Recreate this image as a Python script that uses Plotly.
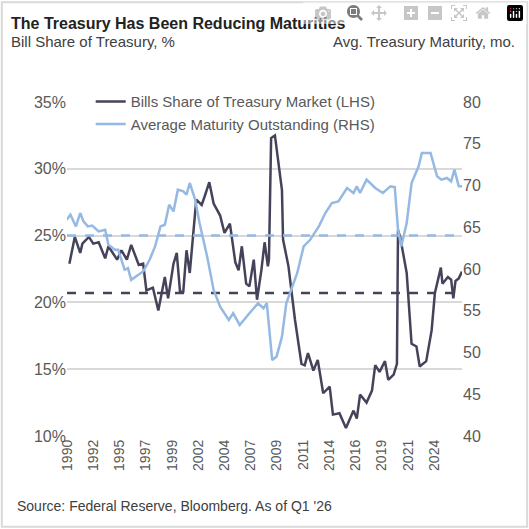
import plotly.graph_objects as go

bills_x = [1990.4,1990.9,1991.4,1991.6,1992.2,1992.6,1993.1,1993.7,1994.0,1994.8,1995.2,1995.7,1996.1,1996.8,1997.2,1997.5,1998.1,1998.6,1999.2,1999.5,2000.0,2000.3,2000.6,2000.9,2001.2,2001.5,2002.1,2002.6,2002.9,2003.3,2003.7,2004.3,2004.7,2005.2,2005.7,2006.0,2006.3,2006.7,2007.0,2007.4,2007.7,2008.1,2008.4,2008.7,2008.8,2009.0,2009.35,2010.0,2010.1,2010.6,2011.2,2011.8,2012.1,2012.4,2012.9,2013.3,2013.8,2014.4,2014.7,2015.3,2015.9,2016.6,2016.9,2017.2,2017.8,2018.3,2018.6,2019.0,2019.5,2019.8,2020.3,2020.6,2020.7,2020.9,2021.5,2021.95,2022.4,2022.7,2023.3,2023.8,2024.1,2024.65,2024.8,2025.3,2025.6,2025.8,2026.0,2026.3,2026.6]
bills_v = [22.9,24.9,23.7,24.4,24.9,24.4,24.5,23.3,24.2,23.2,23.9,23.2,24.3,22.8,22.9,20.9,21.1,19.4,21.9,20.3,22.9,23.7,20.8,20.8,23.9,22.2,27.7,27.3,28.0,29.0,27.4,26.5,25.2,25.9,23.0,22.4,24.2,21.4,21.2,23.2,20.2,22.4,24.5,22.7,23.2,32.3,32.5,28.4,24.7,22.7,18.7,15.4,15.3,16.2,14.9,15.7,13.2,13.7,11.6,11.7,10.6,11.9,11.3,13.1,12.5,13.4,15.3,14.8,15.6,14.2,14.6,15.4,25.4,24.9,22.2,16.9,16.7,15.2,15.6,17.9,20.7,22.6,21.4,21.9,21.7,20.3,21.6,21.8,22.3]
mat_x = [1990.15,1990.5,1991.0,1991.4,1991.7,1992.1,1992.5,1993.1,1993.7,1994.0,1994.6,1994.9,1995.5,1995.8,1996.1,1997.2,1997.8,1998.3,1998.8,1999.2,1999.6,2000.0,2000.4,2000.9,2001.2,2001.5,2002.0,2002.4,2003.1,2003.7,2004.3,2005.1,2005.5,2006.1,2007.0,2007.8,2008.3,2008.6,2008.75,2009.1,2009.5,2010.0,2010.4,2011.4,2012.0,2012.6,2013.4,2014.0,2014.6,2015.2,2016.0,2016.6,2016.9,2017.2,2017.8,2018.6,2019.3,2020.0,2020.4,2020.7,2021.0,2021.5,2021.95,2022.6,2022.9,2023.7,2024.3,2024.7,2025.2,2025.6,2025.9,2026.3,2026.6]
mat_v = [65.9,66.5,65.1,66.7,65.7,65.1,65.2,64.5,64.7,62.9,62.3,62.3,59.9,60.1,58.7,59.7,61.1,62.7,65.1,65.3,67.7,66.9,69.5,69.3,68.9,70.3,68.3,65.5,61.5,57.5,55.5,53.9,54.7,53.3,54.7,55.9,55.3,55.9,53.9,49.1,49.5,51.9,55.9,59.5,62.7,63.5,65.1,66.7,67.9,68.1,69.7,69.1,69.9,69.1,70.7,69.7,69.1,69.9,69.8,64.7,62.7,65.5,70.3,72.3,73.9,73.9,71.1,70.7,70.9,70.5,71.9,69.9,69.9]
bills_avg = 20.7
mat_avg = 64.0
tick_labels = ["1990","1992","1995","1997","1999","2002","2004","2007","2009","2011","2014","2016","2019","2021","2024"]
tick_vals = [1990.2 + k*2.417 for k in range(len(tick_labels))]

DARK = "#45435a"
LIGHT = "#95b9e3"
x0, x1 = 1990.18, 2026.6

fig = go.Figure()
fig.add_trace(go.Scatter(x=[x0, x1], y=[bills_avg]*2, mode="lines", line=dict(color=DARK, width=2.5, dash="dash"), showlegend=False))
fig.add_trace(go.Scatter(x=[x0, x1], y=[mat_avg]*2, yaxis="y2", mode="lines", line=dict(color=LIGHT, width=2.5, dash="dash"), showlegend=False))
fig.add_trace(go.Scatter(x=bills_x, y=bills_v, mode="lines", name="Bills Share of Treasury Market (LHS)", line=dict(color=DARK, width=2.5)))
fig.add_trace(go.Scatter(x=mat_x, y=mat_v, yaxis="y2", mode="lines", name="Average Maturity Outstanding (RHS)", line=dict(color=LIGHT, width=2.5)))

font = "Liberation Sans, Arial, sans-serif"
fig.update_layout(
    width=529, height=529, margin=dict(l=67, r=67, t=102, b=93),
    paper_bgcolor="white", plot_bgcolor="white",
    font=dict(family=font, color="#595959"),
    xaxis=dict(range=[x0, x1], tickvals=tick_vals, ticktext=tick_labels, tickangle=-90,
               tickfont=dict(size=14, color="#595959"), showgrid=False, zeroline=False, ticks=""),
    yaxis=dict(range=[10, 35], dtick=5, ticksuffix="%", tickfont=dict(size=16, color="#595959"),
               showgrid=True, gridcolor="#d9d9d9", gridwidth=1.5, zeroline=False),
    yaxis2=dict(range=[40, 80], dtick=5, overlaying="y", side="right", tickfont=dict(size=16, color="#595959"),
                showgrid=False, zeroline=False),
    legend=dict(x=0.06, y=1.05, yanchor="top", xanchor="left", bgcolor="rgba(0,0,0,0)",
                font=dict(size=15, color="#595959"), tracegroupgap=0),
    showlegend=True,
)
fig.add_annotation(text="<b>The Treasury Has Been Reducing Maturities</b>", xref="paper", yref="paper",
                   x=-0.147, y=1.235, xanchor="left", yanchor="middle", showarrow=False, font=dict(size=16, color="#222"))
fig.add_annotation(text="Bill Share of Treasury, %", xref="paper", yref="paper",
                   x=-0.147, y=1.18, xanchor="left", yanchor="middle", showarrow=False, font=dict(size=15, color="#404040"))
fig.add_annotation(text="Avg. Treasury Maturity, mo.", xref="paper", yref="paper",
                   x=1.14, y=1.18, xanchor="right", yanchor="middle", showarrow=False, font=dict(size=15, color="#404040"))
fig.add_annotation(text="Source: Federal Reserve, Bloomberg. As of Q1 '26", xref="paper", yref="paper",
                   x=-0.132, y=-0.21, xanchor="left", yanchor="middle", showarrow=False, font=dict(size=14, color="#404040"))
fig.add_shape(type="rect", xref="paper", yref="paper", x0=-0.165, x1=1.165, y0=-0.272, y1=1.299,
              line=dict(color="#d9d9d9", width=2), layer="below")
fig.write_html("out.html", post_script="document.body.style.margin='0';document.body.style.overflow='hidden';")
